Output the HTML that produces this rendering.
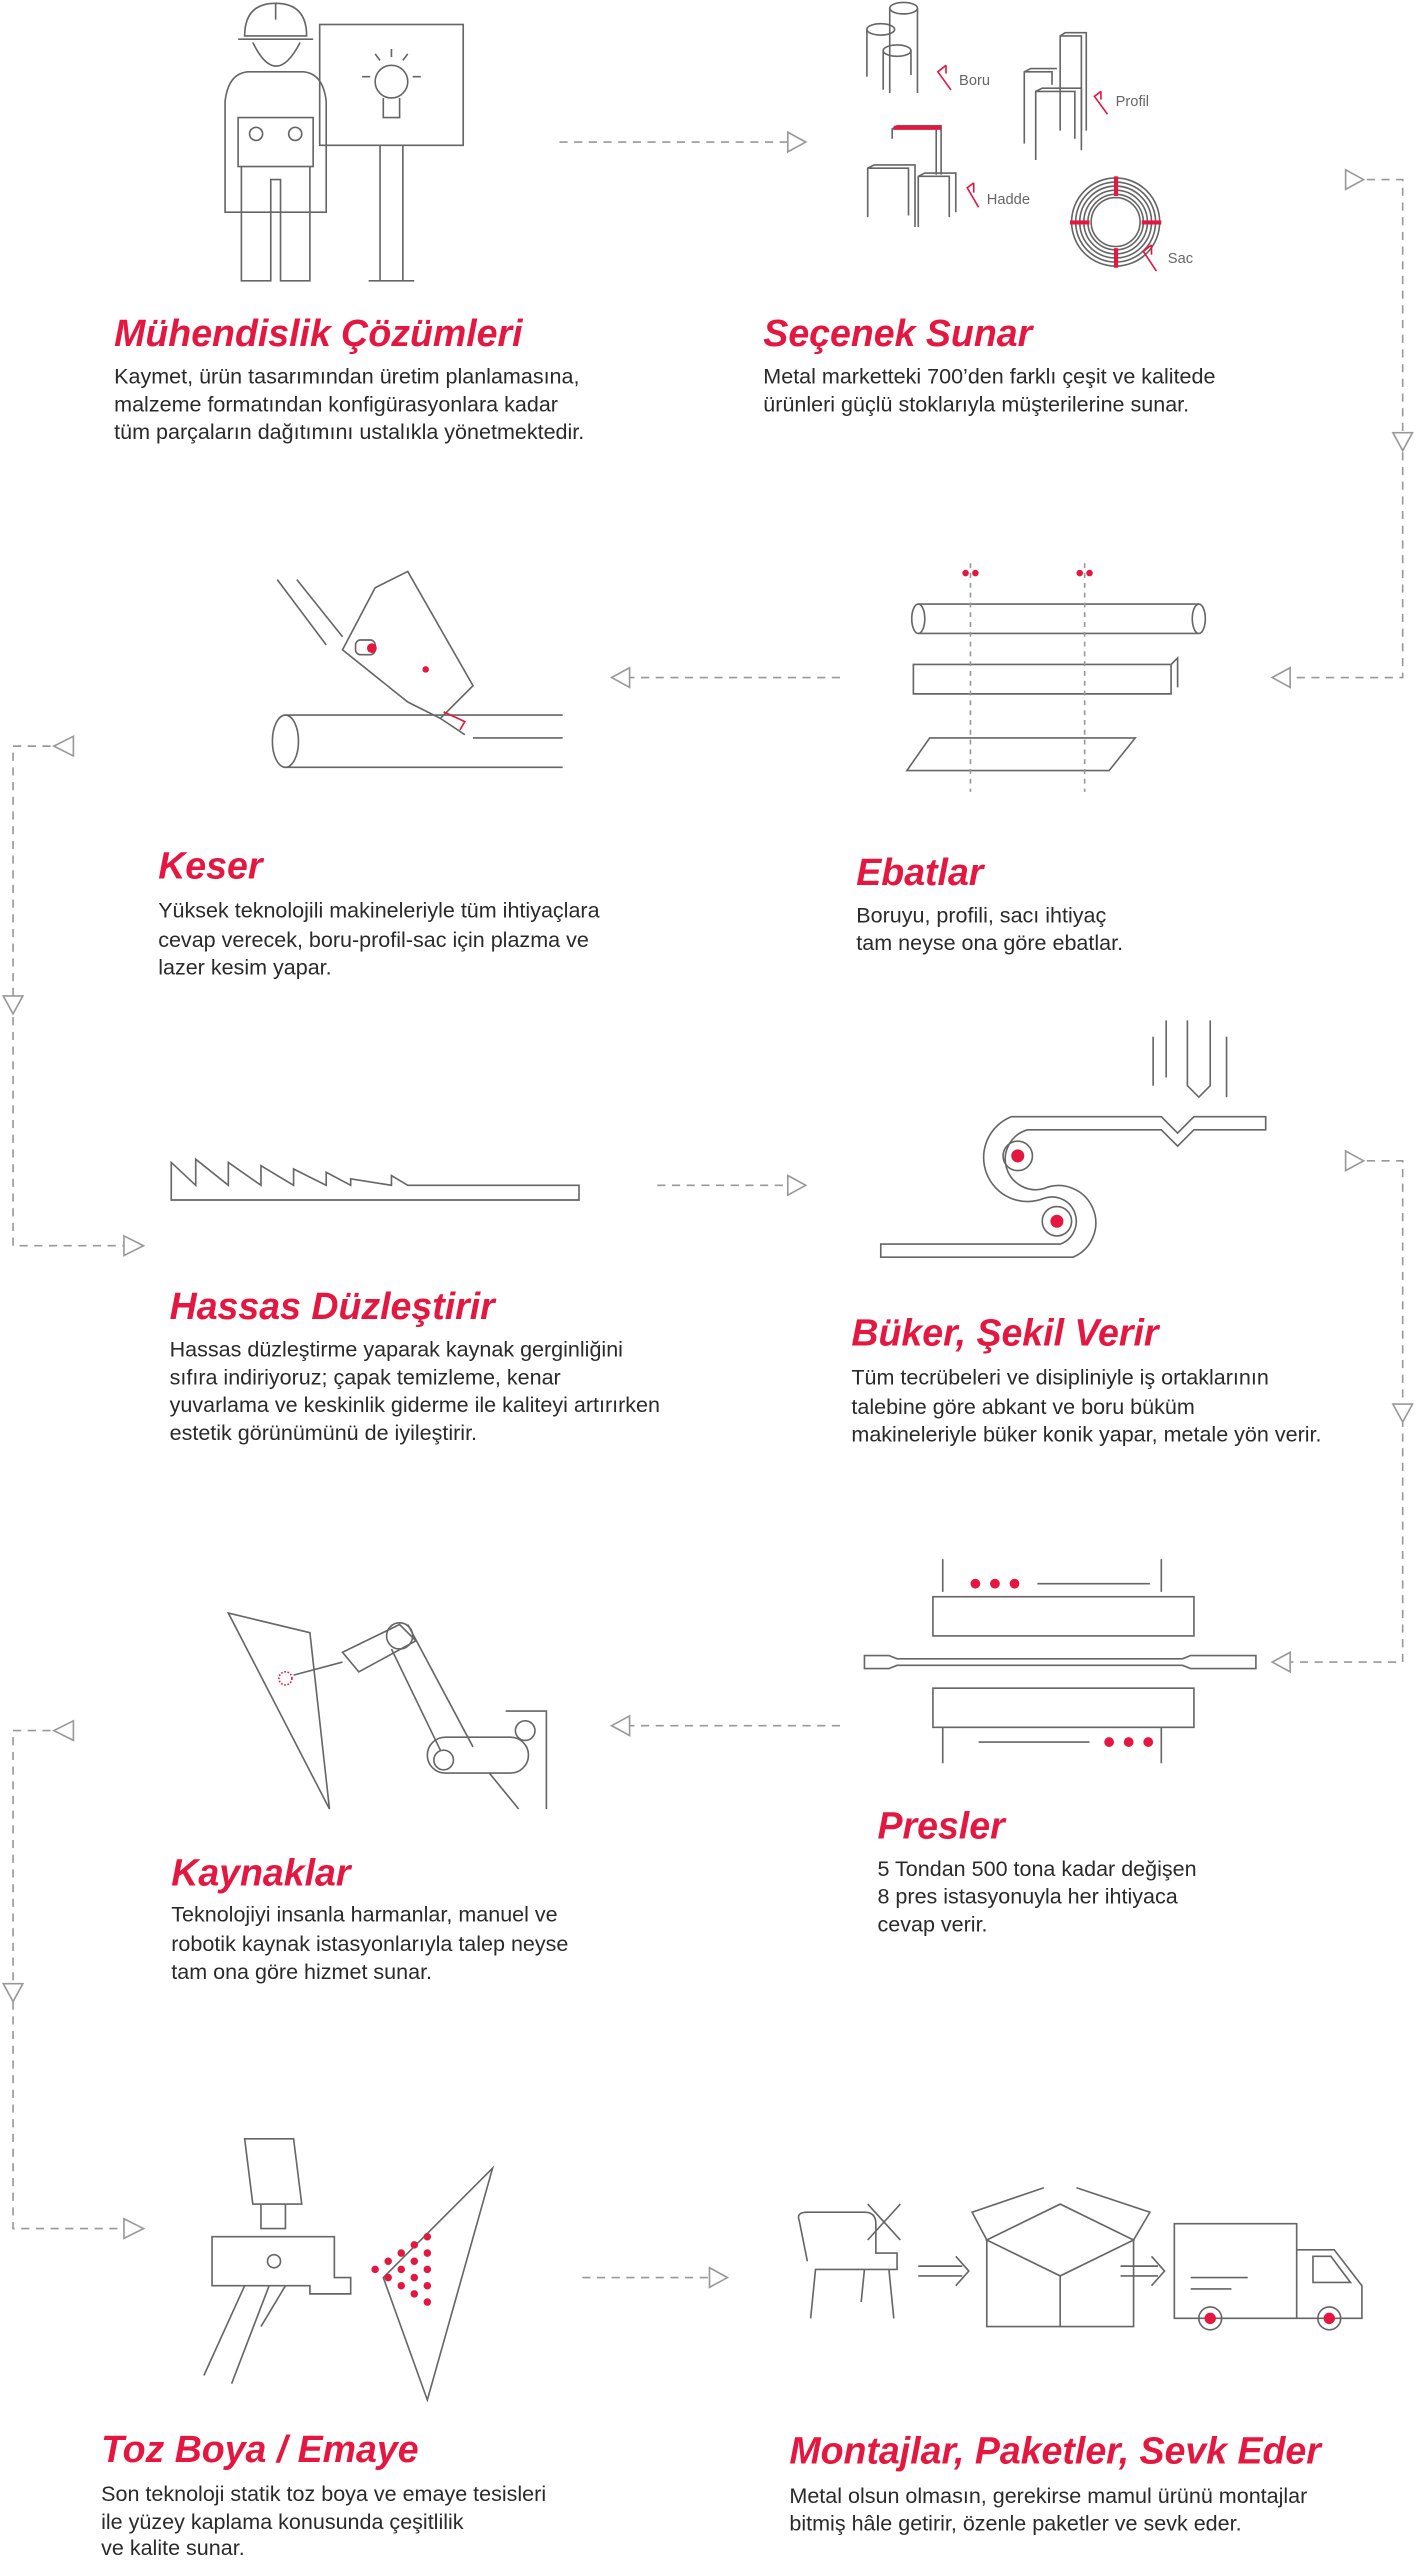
<!DOCTYPE html>
<html><head><meta charset="utf-8"><style>
html,body{margin:0;padding:0;background:#fff;}
svg{display:block;}
.t{font-family:"Liberation Sans",sans-serif;font-weight:bold;font-style:italic;font-size:23px;fill:#e3173f;}
.b{font-family:"Liberation Sans",sans-serif;font-size:13.2px;fill:#2a2a2a;}
.l{fill:none;stroke:#666;stroke-width:1;}
.d{fill:none;stroke:#999;stroke-width:1;stroke-dasharray:5,4;}
.a{fill:#fff;stroke:#999;stroke-width:1;}
.r{fill:#e3173f;}
.rl{fill:none;stroke:#e3173f;stroke-width:1;}
.s{font-family:"Liberation Sans",sans-serif;font-size:9px;fill:#666;}
</style></head><body>
<svg width="1419" height="2560" viewBox="0 0 870 1568" preserveAspectRatio="none" xmlns="http://www.w3.org/2000/svg">
<!-- connectors -->
<path class="d" d="M343 87 H483"/><path class="a" d="M483 81 L494 87 L483 93 Z"/>
<path class="a" d="M825 104 L836 110 L825 116 Z"/><path class="d" d="M838 110 H860 V415 H791"/>
<path class="a" d="M854 265 L866 265 L860 276 Z"/><path class="a" d="M791 409 L780 415 L791 421 Z"/>
<path class="d" d="M515 415 H386"/><path class="a" d="M386 409 L375 415 L386 421 Z"/>
<path class="a" d="M45 451 L33 457 L45 463 Z"/><path class="d" d="M31 457 H8 V763 H76"/>
<path class="a" d="M2 610 L14 610 L8 621 Z"/><path class="a" d="M76 757 L88 763 L76 769 Z"/>
<path class="d" d="M403 726 H483"/><path class="a" d="M483 720 L494 726 L483 732 Z"/>
<path class="a" d="M825 705 L836 711 L825 717 Z"/><path class="d" d="M838 711 H860 V1018 H791"/>
<path class="a" d="M854 860 L866 860 L860 871 Z"/><path class="a" d="M791 1012 L780 1018 L791 1024 Z"/>
<path class="d" d="M515 1057 H386"/><path class="a" d="M386 1051 L375 1057 L386 1063 Z"/>
<path class="a" d="M45 1054 L33 1060 L45 1066 Z"/><path class="d" d="M31 1060 H8 V1365 H76"/>
<path class="a" d="M2 1215 L14 1215 L8 1226 Z"/><path class="a" d="M76 1359 L88 1365 L76 1371 Z"/>
<path class="d" d="M357 1395 H435"/><path class="a" d="M435 1389 L446 1395 L435 1401 Z"/>

<!-- 1 engineer -->
<g class="l">
<path d="M150 22 Q150 2 169 2 Q188 2 188 22 Z"/><path d="M146 24 H192 M169 2 V12"/>
<path d="M155 26 Q169 55 184 26"/>
<path d="M138 62 Q140 45 152 44 H186 Q198 45 200 62 V130 H138 Z"/>
<rect x="146" y="72" width="46" height="30"/><circle cx="157" cy="82" r="4"/><circle cx="181" cy="82" r="4"/>
<path d="M148 102 V172 H166 V110 H172 V172 H190 V102"/>
<rect x="196" y="15" width="88" height="74"/><path d="M233 89 V172 M247 89 V172 M226 172 H254"/>
<circle cx="240" cy="50" r="10"/><path d="M235 60 V72 H245 V60 M233 37 L230 33 M247 37 L250 33 M227 47 H222 M253 47 H258 M240 35 V30"/>
</g>
<!-- 2 materials -->
<g class="l">
<ellipse cx="554" cy="5" rx="8.5" ry="3.5"/><path d="M545.5 5 V57 M562.5 5 V57"/>
<ellipse cx="540" cy="18" rx="8.5" ry="3.5"/><path d="M531.5 18 V47"/>
<ellipse cx="550" cy="31" rx="8.5" ry="3.5"/><path d="M541.5 31 V55 M558.5 31 V46"/>
<path d="M650 80 V22 L653 20 H666 V80 M650 22 H663 V80"/>
<path d="M628 88 V44 L632 42 H648 M628 44 H645 V52"/>
<path d="M635 98 V56 L639 54 H663 V92 M635 56 H659 V85"/>
<path d="M547 85 V79 L550 77 H577 V107 M547 79 H574 V107"/>
<path d="M532 133 V103 L536 101 H561 V139 M532 103 H557 V132"/>
<path d="M563 139 V108 L567 106 H586 V130 M563 108 H582 V133"/>
</g>
<rect x="548" y="77" width="29" height="2.5" class="r"/>
<g class="l">
<circle cx="684" cy="136" r="27"/><circle cx="684" cy="136" r="24.5"/><circle cx="684" cy="136" r="22"/><circle cx="684" cy="136" r="19.5"/><circle cx="684" cy="136" r="17"/><circle cx="684" cy="136" r="15"/>
</g>
<rect x="683" y="108" width="2.5" height="12" class="r"/><rect x="683" y="152" width="2.5" height="12" class="r"/>
<rect x="656" y="135" width="12" height="2.5" class="r"/><rect x="700" y="135" width="12" height="2.5" class="r"/>
<path class="rl" d="M580 40 L575 44 L583 55 M580 40 V45"/><text class="s" x="588" y="52">Boru</text>
<path class="rl" d="M675 56 L671 59 L679 70 M675 56 V61"/><text class="s" x="684" y="65">Profil</text>
<path class="rl" d="M597 112 L593 115 L600 127 M597 112 V118"/><text class="s" x="605" y="125">Hadde</text>
<path class="rl" d="M706 150 L701 154 L709 166 M706 150 V156"/><text class="s" x="716" y="161">Sac</text>

<!-- 3 keser -->
<g class="l">
<path d="M175 438 H345 M175 470 H345 M290 452 H345"/><ellipse cx="175" cy="454" rx="8" ry="16"/>
<path d="M170 355 L200 395 M182 355 L210 390 M230 360 L250 350 L290 420 L270 440 L250 430 L210 398 Z"/>
<rect x="218" y="392" width="12" height="9" rx="3"/><path d="M270 440 L285 450"/>
</g>
<circle cx="228" cy="397" r="3" class="r"/><circle cx="261" cy="410" r="2" class="r"/>
<path d="M272 436 L285 442 L282 447" class="rl" stroke-width="2"/>
<!-- 4 ebatlar -->
<g class="l">
<path d="M563 370 H735 M563 388 H735"/><ellipse cx="563" cy="379" rx="4" ry="9"/><ellipse cx="735" cy="379" rx="4" ry="9"/>
<path d="M560 407 H718 V425 H560 Z M718 407 L722 403 V421"/>
<path d="M570 452 H696 L680 472 H556 Z"/>
</g>
<path d="M595 345 V485 M665 345 V485" fill="none" stroke="#999" stroke-dasharray="3,3"/>
<circle cx="592" cy="351" r="2" class="r"/><circle cx="598" cy="351" r="2" class="r"/>
<circle cx="662" cy="351" r="2" class="r"/><circle cx="668" cy="351" r="2" class="r"/>

<!-- 5 sawtooth -->
<path class="l" d="M105 712 V735 H355 V726 H250 L240 720 V726 L215 722 V726 L200 718 V726 L180 716 V726 L160 714 V726 L140 712 V726 L120 710 V726 Z"/>
<!-- 6 büker -->
<g class="l">
<path d="M715 625 V660 M728 625 V665 L735 672 L742 665 V625 M707 635 V665 M752 635 V672"/>
<path d="M620 684 H712 L722 694 L732 684 H776 V692 H732 L722 702 L712 692 H630 A18 18 0 0 0 640 728 A22 22 0 0 1 658 770 H540 V762 H650 A14 14 0 0 0 640 734 A26 26 0 0 1 620 684 Z"/>
<circle cx="624" cy="708" r="9"/><circle cx="648" cy="748" r="9"/>
</g>
<circle cx="624" cy="708" r="4" class="r"/><circle cx="648" cy="748" r="4" class="r"/>

<!-- 7 presler -->
<g class="l">
<path d="M578 955 V975 M712 955 V975"/><path d="M636 970 H705"/>
<rect x="572" y="978" width="160" height="24"/>
<path d="M530 1014 H545 L550 1016 H725 L730 1014 H770 V1022 H730 L725 1020 H550 L545 1022 H530 Z"/>
<rect x="572" y="1034" width="160" height="24"/>
<path d="M578 1058 V1080 M712 1058 V1080 M600 1067 H668"/>
</g>
<circle cx="598" cy="970" r="3" class="r"/><circle cx="610" cy="970" r="3" class="r"/><circle cx="622" cy="970" r="3" class="r"/>
<circle cx="680" cy="1067" r="3" class="r"/><circle cx="692" cy="1067" r="3" class="r"/><circle cx="704" cy="1067" r="3" class="r"/>
<!-- 8 kaynak -->
<g class="l">
<path d="M140 988 L190 1000 L202 1108 Z"/>
<path d="M180 1026 L210 1018 M210 1012 L245 995 L255 1005 L220 1024 Z"/>
<circle cx="245" cy="1002" r="8"/><path d="M250 995 L290 1070 M240 1010 L270 1072"/>
<rect x="262" y="1064" width="62" height="22" rx="11"/><circle cx="272" cy="1078" r="6"/><circle cx="322" cy="1060" r="6"/>
<path d="M310 1048 H335 V1108 M300 1086 L318 1108"/>
</g>
<circle cx="175" cy="1028" r="4" fill="none" stroke="#e3173f" stroke-dasharray="1,1"/>

<!-- 9 toz boya -->
<g class="l">
<path d="M150 1310 H180 L185 1350 H155 Z M160 1350 V1365 H175 V1350"/>
<path d="M130 1370 H205 V1395 H215 V1405 H190 V1400 H130 Z"/><circle cx="168" cy="1385" r="4"/>
<path d="M150 1400 L125 1455 M165 1400 L142 1460 M175 1400 L160 1425"/>
<path d="M235 1395 L302 1328 L262 1470 Z"/>
</g>
<g class="r">
<circle cx="262" cy="1370" r="2.3"/><circle cx="262" cy="1380" r="2.3"/><circle cx="262" cy="1390" r="2.3"/><circle cx="262" cy="1400" r="2.3"/><circle cx="262" cy="1410" r="2.3"/>
<circle cx="254" cy="1375" r="2.3"/><circle cx="254" cy="1385" r="2.3"/><circle cx="254" cy="1395" r="2.3"/><circle cx="254" cy="1405" r="2.3"/>
<circle cx="246" cy="1380" r="2.3"/><circle cx="246" cy="1390" r="2.3"/><circle cx="246" cy="1400" r="2.3"/>
<circle cx="238" cy="1385" r="2.3"/><circle cx="238" cy="1395" r="2.3"/><circle cx="230" cy="1390" r="2.3"/>
</g>
<!-- 10 montaj -->
<g class="l">
<path d="M490 1360 Q488 1355 495 1355 H530 Q537 1355 537 1362 V1380 H550 V1390 H500 L497 1420 M545 1390 L548 1420 M530 1390 L528 1410 M490 1360 L495 1385"/>
<path d="M532 1350 L552 1372 M552 1350 L532 1372"/>
<path d="M563 1388 H590 M563 1394 H590 M586 1382 L594 1391 L586 1400"/>
<path d="M605 1372 L650 1350 L695 1372 L650 1394 Z M605 1372 V1425 H695 V1372 M650 1394 V1425 M605 1372 L596 1355 L640 1340 M695 1372 L705 1355 L660 1340"/>
<path d="M687 1388 H710 M687 1394 H710 M706 1382 L714 1391 L706 1400"/>
<path d="M720 1362 H795 V1420 H720 Z M795 1378 H818 L835 1400 V1420 H795 M805 1382 H816 L828 1398 H805 Z"/>
<path d="M730 1395 H765 M730 1402 H755"/>
<circle cx="742" cy="1420" r="7"/><circle cx="815" cy="1420" r="7"/>
</g>
<circle cx="742" cy="1420" r="3.5" class="r"/><circle cx="815" cy="1420" r="3.5" class="r"/>

<!-- texts -->
<text class="t" x="70" y="212">Mühendislik Çözümleri</text>
<text class="b" x="70" y="235">Kaymet, ürün tasarımından üretim planlamasına,</text>
<text class="b" x="70" y="252">malzeme formatından konfigürasyonlara kadar</text>
<text class="b" x="70" y="269">tüm parçaların dağıtımını ustalıkla yönetmektedir.</text>
<text class="t" x="468" y="212">Seçenek Sunar</text>
<text class="b" x="468" y="235">Metal marketteki 700’den farklı çeşit ve kalitede</text>
<text class="b" x="468" y="252">ürünleri güçlü stoklarıyla müşterilerine sunar.</text>

<text class="t" x="97" y="538">Keser</text>
<text class="b" x="97" y="562">Yüksek teknolojili makineleriyle tüm ihtiyaçlara</text>
<text class="b" x="97" y="580">cevap verecek, boru-profil-sac için plazma ve</text>
<text class="b" x="97" y="597">lazer kesim yapar.</text>
<text class="t" x="525" y="542">Ebatlar</text>
<text class="b" x="525" y="565">Boruyu, profili, sacı ihtiyaç</text>
<text class="b" x="525" y="582">tam neyse ona göre ebatlar.</text>

<text class="t" x="104" y="808">Hassas Düzleştirir</text>
<text class="b" x="104" y="831">Hassas düzleştirme yaparak kaynak gerginliğini</text>
<text class="b" x="104" y="848">sıfıra indiriyoruz; çapak temizleme, kenar</text>
<text class="b" x="104" y="865">yuvarlama ve keskinlik giderme ile kaliteyi artırırken</text>
<text class="b" x="104" y="882">estetik görünümünü de iyileştirir.</text>
<text class="t" x="522" y="824">Büker, Şekil Verir</text>
<text class="b" x="522" y="848">Tüm tecrübeleri ve disipliniyle iş ortaklarının</text>
<text class="b" x="522" y="866">talebine göre abkant ve boru büküm</text>
<text class="b" x="522" y="883">makineleriyle büker konik yapar, metale yön verir.</text>

<text class="t" x="538" y="1126">Presler</text>
<text class="b" x="538" y="1149">5 Tondan 500 tona kadar değişen</text>
<text class="b" x="538" y="1166">8 pres istasyonuyla her ihtiyaca</text>
<text class="b" x="538" y="1183">cevap verir.</text>
<text class="t" x="105" y="1155">Kaynaklar</text>
<text class="b" x="105" y="1177">Teknolojiyi insanla harmanlar, manuel ve</text>
<text class="b" x="105" y="1195">robotik kaynak istasyonlarıyla talep neyse</text>
<text class="b" x="105" y="1212">tam ona göre hizmet sunar.</text>

<text class="t" x="62" y="1508">Toz Boya / Emaye</text>
<text class="b" x="62" y="1532">Son teknoloji statik toz boya ve emaye tesisleri</text>
<text class="b" x="62" y="1549">ile yüzey kaplama konusunda çeşitlilik</text>
<text class="b" x="62" y="1565">ve kalite sunar.</text>
<text class="t" x="484" y="1509">Montajlar, Paketler, Sevk Eder</text>
<text class="b" x="484" y="1533">Metal olsun olmasın, gerekirse mamul ürünü montajlar</text>
<text class="b" x="484" y="1550">bitmiş hâle getirir, özenle paketler ve sevk eder.</text>
</svg>
</body></html>
